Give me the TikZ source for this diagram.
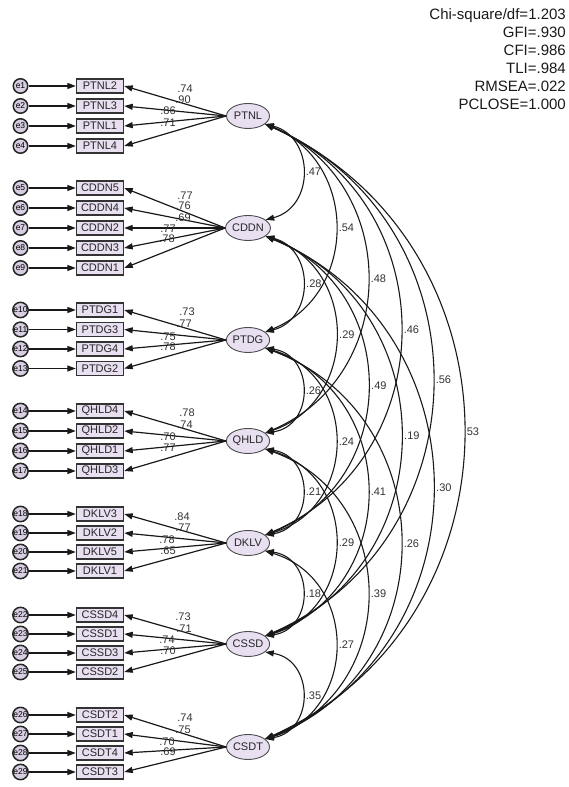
\documentclass[tikz,border=0pt]{standalone}
\usepackage{fontspec}
\setmainfont{Liberation Sans}
\usetikzlibrary{arrows.meta,shapes.geometric,calc}
\definecolor{lav}{RGB}{232,223,241}
\definecolor{errfill}{RGB}{216,206,226}
\tikzset{
  errc/.style={circle, draw=black!85, line width=1.5pt, fill=errfill, minimum size=14.5pt, inner sep=0pt, font=\fontsize{8.5}{8.5}\selectfont},
  obs/.style={rectangle, draw=black!80, line width=1.4pt, fill=lav, minimum width=47pt, minimum height=14pt, inner sep=0pt, font=\fontsize{11}{11}\selectfont, text=black!85},
  lat/.style={ellipse, draw=black!70, line width=0.9pt, fill=lav, minimum width=43pt, minimum height=25pt, inner sep=0pt, font=\fontsize{11}{11}\selectfont, text=black!85},
  errarrow/.style={->, line width=1.3pt, black!90},
  load/.style={->, line width=1.2pt, black!90},
  covline/.style={<->, line width=1.1pt, black!90},
  lbl/.style={font=\fontsize{11}{11}\selectfont, inner sep=0pt, text=black!80},
  covlabel/.style={font=\fontsize{11}{11}\selectfont, inner sep=0pt, text=black!80, anchor=west}
}
\newcommand{\covar}[4]{%
  \draw[covline] let \p1=(#1.-25), \p2=(#2.25), \n1={\y1-\y2}, \n2={2*atan(2*#3/\n1)}, \n3={\n1/(3*cos(\n2/2)^2)} in
    (\p1) .. controls +(-90+\n2:\n3) and +(90-\n2:\n3) .. (\p2)
    node[covlabel] (c#1#2) at ({\x1+#3pt+3pt},{0.5*\y1+0.5*\y2}) {#4};
}
\begin{document}
\begin{tikzpicture}[x=1pt,y=1pt,>={Triangle[length=8.5pt,width=6pt]}]
\useasboundingbox (0,0) rectangle (568,787);

% fit indices
\node[anchor=north east, align=right, font=\fontsize{15}{18}\selectfont, inner sep=0pt, text=black!90] (fit) at (566,779)
  {Chi-square/df=1.203\\GFI=.930\\CFI=.986\\TLI=.984\\RMSEA=.022\\PCLOSE=1.000};

% latent variables
\node[lat] (PTNL) at (248,671) {PTNL};
\node[lat] (CDDN) at (248,559) {CDDN};
\node[lat] (PTDG) at (248,447) {PTDG};
\node[lat] (QHLD) at (248,346) {QHLD};
\node[lat] (DKLV) at (248,244) {DKLV};
\node[lat] (CSSD) at (248,143) {CSSD};
\node[lat] (CSDT) at (248,40) {CSDT};

% indicators with errors and loadings
\foreach \e/\v/\y/\lat in {
  1/PTNL2/701/PTNL, 2/PTNL3/681/PTNL, 3/PTNL1/661/PTNL, 4/PTNL4/641/PTNL,
  5/CDDN5/599/CDDN, 6/CDDN4/579/CDDN, 7/CDDN2/559/CDDN, 8/CDDN3/539/CDDN, 9/CDDN1/519/CDDN,
  10/PTDG1/477/PTDG, 11/PTDG3/457.5/PTDG, 12/PTDG4/438/PTDG, 13/PTDG2/418.5/PTDG,
  14/QHLD4/376/QHLD, 15/QHLD2/356/QHLD, 16/QHLD1/336/QHLD, 17/QHLD3/316/QHLD,
  18/DKLV3/273/DKLV, 19/DKLV2/254/DKLV, 20/DKLV5/235/DKLV, 21/DKLV1/216/DKLV,
  22/CSSD4/172/CSSD, 23/CSSD1/153/CSSD, 24/CSSD3/134/CSSD, 25/CSSD2/115/CSSD,
  26/CSDT2/72/CSDT, 27/CSDT1/53/CSDT, 28/CSDT4/34/CSDT, 29/CSDT3/15/CSDT} {
  \node[errc] (e\e) at (20.5,\y) {e\e};
  \node[obs] (\v) at (100,\y) {\v};
  \draw[errarrow] (e\e) -- (\v);
  \draw[load] (\lat.west) -- (\v.east);
}

% loading labels
\foreach \v/\x/\y/\t in {
  PTNL2/185/698/.74, PTNL3/183/687/.90, PTNL1/168/676/.86, PTNL4/168/664/.71,
  CDDN5/185/591/.77, CDDN4/183/581/.76, CDDN2/183/569/.69, CDDN3/168/558/.77, CDDN1/167/548/.78,
  PTDG1/187/475/.73, PTDG3/184/463/.77, PTDG4/168/450/.75, PTDG2/168/440/.78,
  QHLD4/187/374/.78, QHLD2/185/362/.74, QHLD1/168/350/.70, QHLD3/168/339/.77,
  DKLV3/182/270/.84, DKLV2/183/259/.77, DKLV5/167/247/.78, DKLV1/168/236/.65,
  CSSD4/183/170/.73, CSSD1/184/158/.71, CSSD3/167/147/.74, CSSD2/168/136/.70,
  CSDT2/185/69/.74, CSDT1/183/57/.75, CSDT4/167/45/.70, CSDT3/168/35/.69} {
  \node[lbl] (l\v) at (\x,\y) {\t};
}

% correlations
\covar{PTNL}{CDDN}{37}{.47}
\covar{CDDN}{PTDG}{37}{.28}
\covar{PTDG}{QHLD}{37}{.26}
\covar{QHLD}{DKLV}{37}{.21}
\covar{DKLV}{CSSD}{37}{.18}
\covar{CSSD}{CSDT}{37}{.35}
\covar{PTNL}{PTDG}{70}{.54}
\covar{CDDN}{QHLD}{70}{.29}
\covar{PTDG}{DKLV}{70}{.24}
\covar{QHLD}{CSSD}{70}{.29}
\covar{DKLV}{CSDT}{70}{.27}
\covar{PTNL}{QHLD}{102}{.48}
\covar{CDDN}{DKLV}{102}{.49}
\covar{PTDG}{CSSD}{102}{.41}
\covar{QHLD}{CSDT}{102}{.39}
\covar{PTNL}{DKLV}{135}{.46}
\covar{CDDN}{CSSD}{135}{.19}
\covar{PTDG}{CSDT}{135}{.26}
\covar{PTNL}{CSSD}{167}{.56}
\covar{CDDN}{CSDT}{167}{.30}
\covar{PTNL}{CSDT}{198}{53}
\end{tikzpicture}
\end{document}
